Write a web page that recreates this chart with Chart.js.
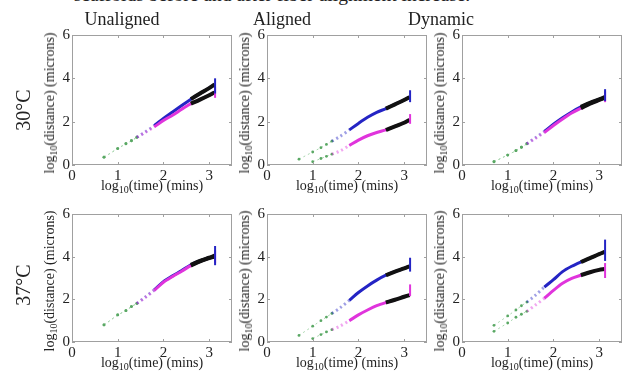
<!DOCTYPE html>
<html>
<head>
<meta charset="utf-8">
<script src="https://cdn.jsdelivr.net/npm/chart.js@4"></script>
<style>
body{margin:0;width:638px;height:373px;background:#fff;position:relative;overflow:hidden;font-family:"Liberation Serif",serif;color:#222}
.t{position:absolute;white-space:nowrap;transform:translate(-50%,-50%)}
.r{transform:translate(-50%,-50%) rotate(-90deg)}
.ax{font-size:14px}
.ax sub{font-size:10px;vertical-align:-3px;line-height:0}
.col{font-size:18px}
.row{font-size:20px}
canvas{position:absolute}
</style>
</head>
<body>
<div class="t" style="left:272px;top:-5px;font-size:19.5px">scaffolds before and after fiber alignment increase.</div>
<script>
// x grid, log10(time) in mins
const timeX = [0.7, 1.0, 1.18, 1.3, 1.42, 1.6, 1.8, 2.0, 2.2, 2.4, 2.6, 2.8, 3.0, 3.12];
const spikeX = 3.13;
const xTicks = [0, 1, 2, 3];
const yTicks = [0, 2, 4, 6];
const columns = ['Unaligned', 'Aligned', 'Dynamic'];
const rows = ['30°C', '37°C'];

// log10(distance) values, blue (upper) and magenta (lower) tracks
const unaligned30Blue = [0.36, 0.76, 0.98, 1.12, 1.28, 1.52, 1.82, 2.15, 2.45, 2.75, 3.04, 3.3, 3.55, 3.72];
const unaligned30Pink = [0.36, 0.76, 0.98, 1.12, 1.28, 1.5, 1.76, 2.05, 2.3, 2.57, 2.83, 3.02, 3.22, 3.35];
const aligned30Blue = [0.27, 0.6, 0.8, 0.95, 1.1, 1.32, 1.62, 1.92, 2.2, 2.43, 2.6, 2.8, 3.0, 3.13];
const aligned30Pink = [null, 0.15, 0.3, 0.4, 0.5, 0.65, 0.9, 1.15, 1.35, 1.5, 1.62, 1.78, 1.95, 2.08];
const dynamic30Blue = [0.15, 0.46, 0.66, 0.82, 0.98, 1.25, 1.55, 1.88, 2.18, 2.45, 2.68, 2.87, 3.03, 3.13];
const dynamic30Pink = [0.15, 0.46, 0.66, 0.82, 0.98, 1.22, 1.5, 1.82, 2.12, 2.4, 2.62, 2.83, 3.0, 3.1];
const unaligned37Blue = [0.8, 1.27, 1.47, 1.66, 1.81, 2.1, 2.45, 2.83, 3.1, 3.35, 3.62, 3.8, 3.95, 4.05];
const unaligned37Pink = [0.8, 1.27, 1.47, 1.66, 1.81, 2.08, 2.42, 2.8, 3.07, 3.32, 3.58, 3.78, 3.93, 4.0];
const aligned37Blue = [0.31, 0.74, 1.0, 1.17, 1.34, 1.6, 1.95, 2.32, 2.63, 2.9, 3.13, 3.3, 3.45, 3.55];
const aligned37Pink = [null, 0.16, 0.35, 0.47, 0.58, 0.75, 1.0, 1.27, 1.5, 1.7, 1.85, 1.98, 2.12, 2.2];
const dynamic37Blue = [0.78, 1.22, 1.5, 1.7, 1.87, 2.18, 2.57, 2.92, 3.3, 3.55, 3.75, 3.93, 4.12, 4.22];
const dynamic37Pink = [0.5, 0.89, 1.16, 1.3, 1.44, 1.72, 2.05, 2.42, 2.75, 2.98, 3.13, 3.27, 3.38, 3.42];

// end-point spread [low, high]
const unaligned30Err = [[3.3, 4.0], [3.1, 3.6]];
const aligned30Err = [[2.9, 3.45], [1.9, 2.35]];
const dynamic30Err = [[2.95, 3.5], [2.9, 3.4]];
const unaligned37Err = [[3.6, 4.5], [3.7, 4.3]];
const aligned37Err = [[3.3, 3.95], [2.15, 2.7]];
const dynamic37Err = [[3.8, 4.8], [3.0, 3.7]];

const panels = [
  [unaligned30Blue, unaligned30Pink, unaligned30Err],
  [aligned30Blue, aligned30Pink, aligned30Err],
  [dynamic30Blue, dynamic30Pink, dynamic30Err],
  [unaligned37Blue, unaligned37Pink, unaligned37Err],
  [aligned37Blue, aligned37Pink, aligned37Err],
  [dynamic37Blue, dynamic37Pink, dynamic37Err]
];

const areaLeft = [72, 267, 462];
const areaTop = [34, 213];
const areaW = 160, areaH = [131, 129];
const Y_W = 20, X_H = 20, PAD_T = 10, PAD_R = 10;
const BLUE = '#2424c4', PINK = '#e034dc';

function pts(ys, from, to) {
  return timeX.slice(from, to).map((x, i) => ({x: x, y: ys[from + i]})).filter(p => p.y !== null);
}

const boxPlugin = {
  id: 'box',
  afterDraw(chart) {
    const {ctx, chartArea: a, scales} = chart;
    ctx.save();
    ctx.strokeStyle = '#a0a0a0';
    ctx.lineWidth = 1;
    ctx.strokeRect(a.left + 0.5, a.top + 0.5, a.right - a.left - 1, a.bottom - a.top - 1);
    xTicks.forEach(v => {
      const x = Math.round(scales.x.getPixelForValue(v)) + 0.5;
      ctx.beginPath();
      ctx.moveTo(x, a.bottom); ctx.lineTo(x, a.bottom - 3);
      ctx.moveTo(x, a.top); ctx.lineTo(x, a.top + 3);
      ctx.stroke();
    });
    yTicks.forEach(v => {
      const y = Math.round(scales.y.getPixelForValue(v)) + 0.5;
      ctx.beginPath();
      ctx.moveTo(a.left, y); ctx.lineTo(a.left + 3, y);
      ctx.moveTo(a.right, y); ctx.lineTo(a.right - 3, y);
      ctx.stroke();
    });
    ctx.restore();
  }
};

function fade(color) {
  return {
    borderColor: ctx => ctx.p0.parsed.x < 1.75 ? color + '70' : undefined,
    borderDash: ctx => ctx.p0.parsed.x < 1.75 ? [2, 3] : undefined
  };
}

function makePanel(idx) {
  const [blue, pink, err] = panels[idx];
  const c = idx % 3, r = Math.floor(idx / 3);
  const cv = document.createElement('canvas');
  cv.width = areaW + Y_W + PAD_R;
  cv.height = areaH[r] + PAD_T + X_H;
  cv.style.left = (areaLeft[c] - Y_W) + 'px';
  cv.style.top = (areaTop[r] - PAD_T) + 'px';
  document.body.appendChild(cv);

  const green = ys => ({
    type: 'line', data: pts(ys, 0, 5), order: 3, showLine: true,
    borderColor: '#a8d6ae', borderWidth: 1, borderDash: [2, 3],
    pointRadius: 1.4, pointBackgroundColor: '#5aa864', pointBorderWidth: 0
  });
  const track = (ys, color) => ({
    type: 'line', data: pts(ys, 4, timeX.length), order: 2, showLine: true,
    borderColor: color, borderWidth: 3, pointRadius: 0, tension: 0.3,
    segment: fade(color)
  });
  const black = ys => ({
    type: 'line', data: pts(ys, 10, timeX.length), order: 1, showLine: true,
    borderColor: '#111', borderWidth: 4, pointRadius: 0, tension: 0.3
  });
  const spike = (range, color) => ({
    type: 'line', data: [{x: spikeX, y: range[0]}, {x: spikeX, y: range[1]}], order: 0,
    showLine: true, borderColor: color, borderWidth: 2, pointRadius: 0
  });

  new Chart(cv, {
    type: 'scatter',
    data: {
      datasets: [
        spike(err[0], BLUE), spike(err[1], PINK),
        black(blue), black(pink),
        track(pink, PINK), track(blue, BLUE),
        green(blue), green(pink)
      ]
    },
    options: {
      responsive: false,
      animation: false,
      layout: {padding: {top: PAD_T, right: PAD_R, left: 0, bottom: 0}},
      plugins: {legend: {display: false}, tooltip: {enabled: false}},
      scales: {
        x: {
          type: 'linear', min: 0, max: 3.5,
          afterBuildTicks: s => { s.ticks = xTicks.map(v => ({value: v})); },
          afterFit: s => { s.height = X_H; },
          grid: {display: false, drawTicks: false, tickLength: 0}, border: {display: false},
          ticks: {padding: 2, color: '#222', font: {family: 'Liberation Serif', size: 15}}
        },
        y: {
          min: 0, max: 6,
          afterBuildTicks: s => { s.ticks = yTicks.map(v => ({value: v})); },
          afterFit: s => { s.width = Y_W; },
          grid: {display: false, drawTicks: false, tickLength: 0}, border: {display: false},
          ticks: {padding: 2, color: '#222', font: {family: 'Liberation Serif', size: 15}}
        }
      }
    },
    plugins: [boxPlugin]
  });

  // axis titles as html (subscript)
  const xt = document.createElement('div');
  xt.className = 't ax';
  xt.innerHTML = 'log<sub>10</sub>(time) (mins)';
  xt.style.left = (areaLeft[c] + areaW / 2) + 'px';
  xt.style.top = (areaTop[r] + areaH[r] + 21) + 'px';
  document.body.appendChild(xt);

  const yt = document.createElement('div');
  yt.className = 't r ax';
  yt.innerHTML = 'log<sub>10</sub>(distance) (microns)';
  yt.style.left = (areaLeft[c] - 22) + 'px';
  yt.style.top = (areaTop[r] + areaH[r] / 2 + 3) + 'px';
  document.body.appendChild(yt);
}

panels.forEach((p, i) => makePanel(i));

const colX = [122, 282, 441];
columns.forEach((name, i) => {
  const d = document.createElement('div');
  d.className = 't col';
  d.textContent = name;
  d.style.left = colX[i] + 'px';
  d.style.top = '19px';
  document.body.appendChild(d);
});
const rowY = [110, 285];
rows.forEach((name, i) => {
  const d = document.createElement('div');
  d.className = 't r row';
  d.textContent = name;
  d.style.left = '23px';
  d.style.top = rowY[i] + 'px';
  document.body.appendChild(d);
});
</script>
</body>
</html>
